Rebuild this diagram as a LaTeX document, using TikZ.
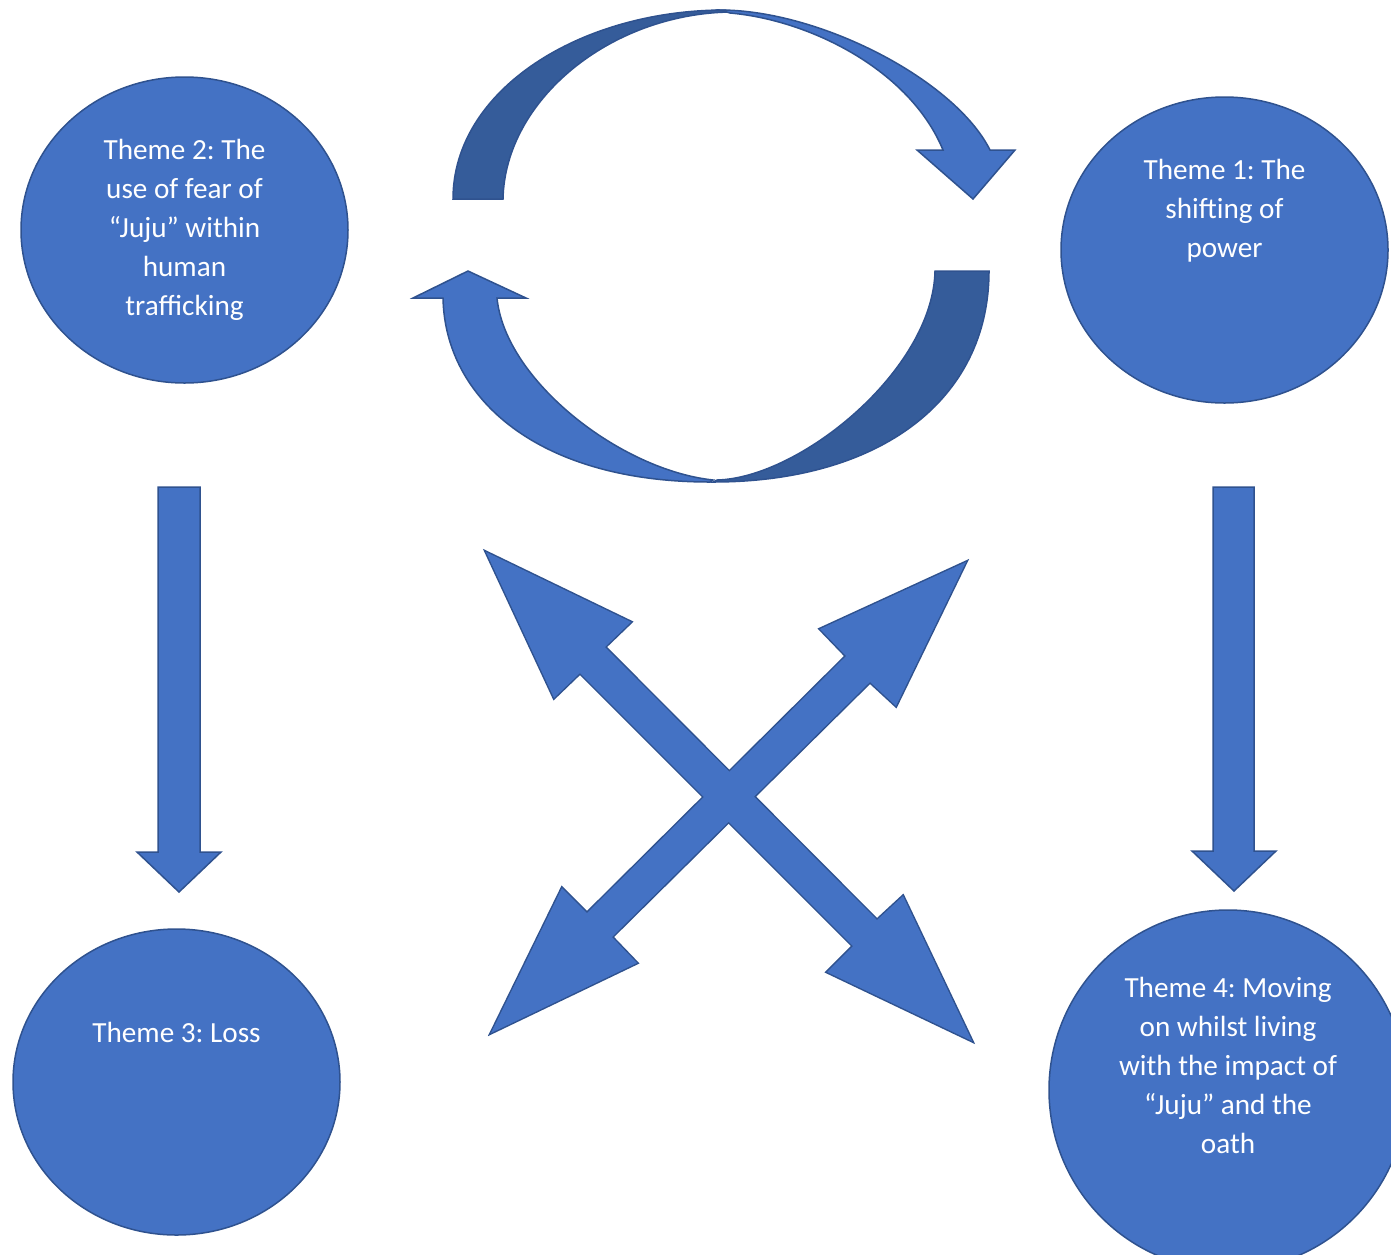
\documentclass[tikz,border=0pt]{standalone}
\usepackage{fontspec}
\setmainfont{Carlito}
\frenchspacing
\usetikzlibrary{shapes.geometric}
\definecolor{themeblue}{HTML}{4472C4}
\definecolor{themeline}{HTML}{2F528F}
\definecolor{themeshade}{HTML}{355C9A}

\begin{document}
\begin{tikzpicture}[
        x=0.5pt, y=-0.5pt,
        theme/.style={ellipse, draw=themeline, fill=themeblue, line width=0.75pt, minimum width=163.5pt, minimum height=153pt, inner sep=0pt},
        themetext/.style={text=white, align=center, font=\fontsize{14.6pt}{19.5pt}\selectfont, inner sep=0pt},
        block/.style={draw=themeline, fill=themeblue, line width=0.75pt, line join=miter},
        backside/.style={draw=themeline, fill=themeshade, line width=0.75pt}
    ]
    \useasboundingbox (0,0) rectangle (1391,1254);

    % The four themes
    \node[theme] (t2) at (184.5,230) {};
    \node[theme] (t1) at (1224.5,250) {};
    \node[theme] (t3) at (176.5,1082) {};
    \node[theme, minimum width=179pt, minimum height=180pt] (t4) at (1228,1090) {};

    \node[themetext] (t2text) at (t2) {Theme 2: The\\use of fear of\\“Juju” within\\human\\trafficking};
    \node[themetext, yshift=19.8pt] (t1text) at (t1) {Theme 1: The\\shifting of\\power};
    \node[themetext, yshift=24.7pt] (t3text) at (t3) {Theme 3: Loss};
    \node[themetext, yshift=12.5pt] (t4text) at (t4) {Theme 4: Moving\\on whilst living\\with the impact of\\“Juju” and the\\oath};

    % Upper curved arrow (back, then front)
    \path[backside] (453,199) .. controls (453,90) and (580,10) .. (725,10)
        -- (730,12) .. controls (610,14) and (505,100) .. (503,199) -- cycle;
    \path[block] (720,10) .. controls (820,10) and (955,80) .. (990,150)
        -- (1015,150) -- (973,199) -- (917,150) -- (943,150)
        .. controls (910,70) and (810,20) .. (730,13) -- cycle;

    % Lower curved arrow (back, then front)
    \path[backside] (989,271) .. controls (989,400) and (880,482) .. (713,482)
        -- (717,480) .. controls (800,478) and (933,370) .. (935,271) -- cycle;
    \path[block] (710,482) .. controls (540,482) and (445,400) .. (443,298)
        -- (413,298) -- (468,271) -- (526,298) -- (497,298)
        .. controls (505,380) and (620,470) .. (713,480) -- cycle;

    % Down arrows
    \path[block] (158,487) -- (200,487) -- (200,852) -- (221,852) -- (179,892) -- (137,852) -- (158,852) -- cycle;
    \path[block] (1213,487) -- (1254,487) -- (1254,851) -- (1276,851) -- (1234,891) -- (1192,851) -- (1213,851) -- cycle;

    % Crossing double arrows
    \path[fill=themeblue, line join=miter, preaction={draw=themeline, line width=1.5pt}]
        (486,552) -- (631,622) -- (605,647) -- (877,920) -- (903,896) -- (972,1041)
        -- (827,972) -- (853,946) -- (580,673) -- (554,698) -- cycle
        (491,1033) -- (562,888) -- (587,913) -- (846,656) -- (820,629) -- (966,562)
        -- (896,706) -- (870,682) -- (612,937) -- (637,963) -- cycle;

\end{tikzpicture}
\end{document}
